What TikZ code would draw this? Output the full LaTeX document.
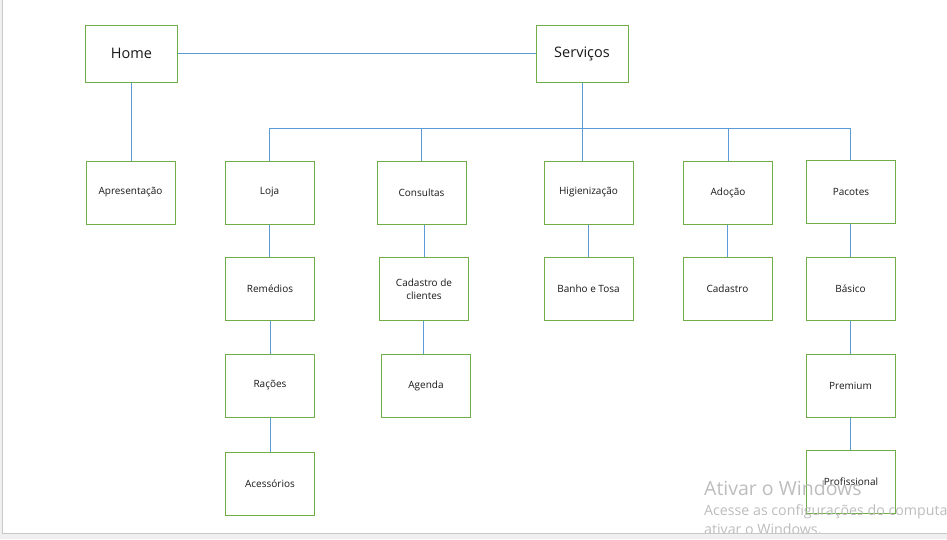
\documentclass[tikz,border=0pt]{standalone}
\usepackage{fontspec}
\setmainfont{Open Sans}
\usetikzlibrary{positioning}
\definecolor{boxgreen}{HTML}{70AD47}
\definecolor{lineblue}{HTML}{5B9BD5}
\definecolor{wmgray}{HTML}{BDBDBD}
\definecolor{framegray}{HTML}{C8C8C8}
\definecolor{bandgray}{HTML}{F0F0F0}
\begin{document}
\begin{tikzpicture}[
    x=1pt, y=-1pt,
    boxnode/.style={rectangle, draw=boxgreen, line width=1pt, fill=white, minimum width=89pt, minimum height=63pt, inner sep=1pt, align=center, font=\fontsize{10}{13}\selectfont, text=black!90},
    bignode/.style={boxnode, minimum width=92pt, minimum height=57pt, font=\fontsize{14.5}{17}\selectfont},
    link/.style={draw=lineblue, line width=0.9pt}
    ]
        \useasboundingbox (0,0) rectangle (947,539);
        \fill[white] (0,0) rectangle (947,539);

        %Nodes
        \node[bignode] (home)     at (131.5,53.5) {Home};
        \node[bignode] (servicos) at (582,53.5)   {Serviços};

        \node[boxnode] (apres)    at (130.5,192.5) {Apresentação};
        \node[boxnode] (loja)     at (269.5,192.5) {Loja};
        \node[boxnode] (consult)  at (421.5,192.5) {Consultas};
        \node[boxnode] (higien)   at (588.5,192.5) {Higienização};
        \node[boxnode] (adocao)   at (728,192.5)   {Adoção};
        \node[boxnode] (pacotes)  at (851,191.5)   {Pacotes};

        \node[boxnode] (remedios) at (270,289)   {Remédios};
        \node[boxnode] (cadcli)   at (424,289)   {Cadastro de\\clientes};
        \node[boxnode] (banho)    at (588.5,289) {Banho e Tosa};
        \node[boxnode] (cadastro) at (727.5,289) {Cadastro};
        \node[boxnode] (basico)   at (850.5,289) {Básico};

        \node[boxnode] (racoes)   at (270,385.5) {Rações};
        \node[boxnode] (agenda)   at (426,385.5) {Agenda};
        \node[boxnode] (premium)  at (850.5,385.5) {Premium};

        \node[boxnode] (acess)    at (270,484) {Acessórios};
        \node[boxnode] (profis)   at (851,482) {Profissional};

        \coordinate (bar) at (582,128);

        %Lines
        \draw[link] (home.east) -- (servicos.west);
        \draw[link] (home.south) -- (home.south |- apres.north);
        \draw[link] (servicos.south) -- (bar);
        \draw[link] (bar) -- (bar |- higien.north);
        \draw[link] (loja.north) |- (bar);
        \draw[link] (consult.north) |- (bar);
        \draw[link] (adocao.north) |- (bar);
        \draw[link] ([xshift=-1pt]pacotes.north) |- (bar);

        \draw[link] (loja.south) -- (loja.south |- remedios.north);
        \draw[link] (remedios.south) -- (remedios.south |- racoes.north);
        \draw[link] (racoes.south) -- (racoes.south |- acess.north);
        \draw[link] (cadcli.north) -- (cadcli.north |- consult.south);
        \draw[link] ([xshift=-1pt]cadcli.south) -- ([xshift=-1pt]cadcli.south |- agenda.north);
        \draw[link] (higien.south) -- (higien.south |- banho.north);
        \draw[link] (cadastro.north) -- (cadastro.north |- adocao.south);
        \draw[link] (basico.north) -- (basico.north |- pacotes.south);
        \draw[link] (basico.south) -- (basico.south |- premium.north);
        \draw[link] (premium.south) -- (premium.south |- profis.north);

        %Watermark and frame
        \begin{scope}
            \clip (0,0) rectangle (947,539);
            \node[anchor=base west, inner sep=0pt, text=wmgray, font=\fontsize{19.5}{22}\selectfont] (wmtitle) at (704,495) {Ativar o Windows};
            \node[anchor=base west, inner sep=0pt, text=wmgray, font=\fontsize{14.2}{16}\selectfont] (wmline1) at (704,515) {Acesse as configurações do computador para};
            \node[anchor=base west, inner sep=0pt, text=wmgray, font=\fontsize{14.2}{16}\selectfont] (wmline2) at (704,534) {ativar o Windows.};
        \end{scope}
        \fill[bandgray] (0,533) rectangle (947,539);
        \fill[bandgray] (0,0) rectangle (2,539);
        \draw[framegray, line width=1pt] (2.5,0) -- (2.5,533) -- (947,533);
    \end{tikzpicture}
\end{document}
